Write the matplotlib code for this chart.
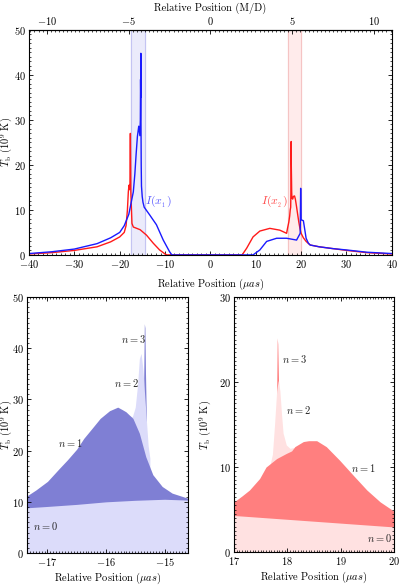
import numpy as np
import matplotlib
matplotlib.use("Agg")
import matplotlib.pyplot as plt
from matplotlib.ticker import MultipleLocator, FixedLocator

plt.rcParams['font.family'] = 'serif'
plt.rcParams['font.serif'] = ['cmr10']
plt.rcParams['mathtext.fontset'] = 'cm'
plt.rcParams['axes.formatter.use_mathtext'] = True
plt.rcParams['axes.unicode_minus'] = True

# ---------------- top panel: full profiles ----------------
red_x = [-40, -35, -30, -25, -22, -20, -19, -18.6, -18.3, -18.1, -17.95, -17.85,
         -17.75, -17.65, -17.55, -17.3, -17.0, -16.5, -15.5, -14.8, -14.1, -12.6,
         -11.2, -10.0, -9.6, 7, 8, 9.4, 10.9, 13.1, 15.3, 16.8, 17.0, 17.29, 17.48,
         17.6, 17.7, 17.76, 17.8, 17.81, 17.83, 17.89, 17.92, 17.98, 18.14, 18.3,
         18.55, 18.73, 18.98, 19.24, 19.49, 19.74, 20.0, 20.5, 21.1, 22, 24, 27,
         30, 34.5, 40]
red_y = [0.2, 0.5, 1.0, 1.8, 2.9, 4.0, 5.0, 6.5, 10, 14, 15.5, 14.5,
         15, 27, 14, 7, 6.2, 6.0, 5.6, 5.0, 4.4, 2.6,
         1.1, 0.2, 0, 0, 1.5, 4.0, 5.3, 5.9, 5.5, 4.8, 5.9, 7.3, 8.65,
         10, 10.6, 15, 19, 25.2, 20.2, 16.3, 14, 12.6, 12.4, 13,
         13.1, 12.4, 10.8, 9, 7.3, 5.9, 4.8, 3.8, 3.0, 2.2, 1.8, 1.4,
         1.0, 0.5, 0.2]

blue_x = [-40, -35, -30, -25, -22, -20, -19, -18, -17.5, -17.0, -16.66, -16.38,
          -16.1, -15.8, -15.55, -15.45, -15.4, -15.36, -15.34, -15.31, -15.26,
          -15.2, -15.04, -14.87, -14.6, -13.4, -11.9, -10.4, -9.0, -8.5,
          9.4, 10.9, 12.4, 14.6, 16.8, 19.0, 19.8, 19.9, 20.0, 20.5, 21.1,
          21.6, 22, 24, 27, 30, 34.5, 40]
blue_y = [0.3, 0.7, 1.3, 2.5, 3.8, 5.0, 6.5, 9.0, 11.5, 14, 18, 22.4,
          26.3, 28.6, 26.5, 30, 39, 35, 44.8, 30, 20,
          15.3, 13, 11.7, 10.6, 8.9, 6.7, 3.3, 0.7, 0,
          0, 1.1, 3.0, 3.7, 3.7, 3.3, 4.8, 14.8, 7.8, 7.6, 3.7,
          2.6, 2.2, 1.8, 1.4, 1.1, 0.6, 0.3]

blue_band = [-17.5, -14.45]
red_band = [17.0, 20.0]

# ---------------- bottom left: blue, by order n ----------------
bl_n0_x = [-17.4, -17.0, -16.5, -16.0, -15.5, -15.0, -14.5]
bl_n0_y = [8.8, 9.1, 9.5, 10.0, 10.3, 10.5, 10.3]
bl_n1_x = [-17.4, -17.2, -17.0, -16.8, -16.66, -16.5, -16.38, -16.25, -16.1,
           -15.94, -15.8, -15.72, -15.66, -15.54, -15.43, -15.32, -15.2,
           -15.04, -14.87, -14.6, -14.5]
bl_n1_y = [10.8, 12.3, 14.0, 16.5, 18.2, 20.3, 22.4, 24.2, 26.3,
           27.8, 28.5, 28.0, 27.6, 26.3, 23.4, 18.8, 15.3,
           13.0, 11.7, 10.7, 10.5]
bl_n2_x = [-15.6, -15.55, -15.5, -15.46, -15.43, -15.4, -15.37, -15.34,
           -15.31, -15.28, -15.25]
bl_n2_y = [26.8, 26.6, 28.5, 33, 38, 39, 36, 31, 26, 21, 18.5]
bl_n3_x = [-15.36, -15.345, -15.335, -15.325, -15.31]
bl_n3_y = [30, 44.8, 44, 35, 26]

# ---------------- bottom right: red, by order n ----------------
br_n0_x = [17, 18, 19, 20]
br_n0_y = [4.3, 3.85, 3.4, 2.95]
br_n1_x = [17, 17.15, 17.29, 17.48, 17.6, 17.8, 17.98, 18.08, 18.14, 18.3,
           18.4, 18.55, 18.73, 18.98, 19.24, 19.49, 19.74, 20]
br_n1_y = [5.9, 6.6, 7.3, 8.65, 10, 11, 11.6, 11.9, 12.4, 13,
           13.1, 13.1, 12.4, 10.8, 9, 7.3, 5.9, 4.8]
br_n2_x = [17.68, 17.72, 17.76, 17.8, 17.83, 17.86, 17.89, 17.92, 17.98,
           18.05, 18.12]
br_n2_y = [10.4, 11.5, 15, 19, 20.2, 19, 16.3, 14, 12.6, 12.2, 12.3]
br_n3_x = [17.8, 17.81, 17.82, 17.835]
br_n3_y = [19, 25.2, 24.5, 20]

md_ticks = [-10, -5, 0, 5, 10]
MD_PER_UAS = 1 / 3.61

fig = plt.figure(figsize=(3.99, 5.86), dpi=100)
ax = fig.add_axes([0.0727, 0.565, 0.9093, 0.384])
ax_l = fig.add_axes([0.0677, 0.0563, 0.4033, 0.4367])
ax_r = fig.add_axes([0.5865, 0.058, 0.4010, 0.435])

fs = 7.5

def style(a):
    a.tick_params(which='both', direction='in', top=True, right=True,
                  labelsize=fs, pad=2)
    a.tick_params(which='major', length=3, width=0.6)
    a.tick_params(which='minor', length=1.5, width=0.5)
    for s in a.spines.values():
        s.set_linewidth(0.8)

# top panel
ax.axvspan(*blue_band, color='#ebebfb', zorder=0)
ax.axvspan(*red_band, color='#ffebeb', zorder=0)
for v in blue_band:
    ax.axvline(v, color='#c4c4f2', lw=0.8, zorder=0)
for v in red_band:
    ax.axvline(v, color='#f5c4c4', lw=0.8, zorder=0)
ax.plot(red_x, red_y, color='#ff1a1a', lw=1.0)
ax.plot(blue_x, blue_y, color='#1a1aff', lw=1.0)
ax.text(-14.4, 11.5, r'$I(x_{_1})$', color='#5a5aff', fontsize=8.5)
ax.text(11.2, 11.5, r'$I(x_{_2})$', color='#ff4a4a', fontsize=8.5)
ax.set_xlim(-40, 40)
ax.set_ylim(0, 50)
ax.xaxis.set_major_locator(MultipleLocator(10))
ax.xaxis.set_minor_locator(MultipleLocator(1))
ax.yaxis.set_major_locator(MultipleLocator(10))
ax.yaxis.set_minor_locator(MultipleLocator(1))
style(ax)
ax.tick_params(top=False, which='both')
ax.set_xlabel(r'Relative Position ($\mu as$)', fontsize=fs, labelpad=5)
ax.set_ylabel(r'$T_{\rm b}$ ($10^9$ K)', fontsize=fs)
ax.yaxis.set_label_coords(-0.040, 0.5)

sec = ax.secondary_xaxis('top', functions=(lambda x: x * MD_PER_UAS,
                                           lambda m: m / MD_PER_UAS))
sec.xaxis.set_major_locator(FixedLocator(md_ticks))
sec.xaxis.set_minor_locator(MultipleLocator(0.25))
sec.tick_params(which='both', direction='in', labelsize=fs, pad=2)
sec.tick_params(which='major', length=3, width=0.6)
sec.tick_params(which='minor', length=1.5, width=0.5)
sec.set_xlabel('Relative Position (M/D)', fontsize=fs, labelpad=3)

# bottom panels, draw highest order first so lower orders sit on top
def layers(a, xs, ys, light, dark):
    cols = [dark, light, dark, light]
    for (x, y), c in zip(zip(xs, ys), cols):
        a.fill_between(x, 0, y, color=c, lw=0)

layers(ax_l, [bl_n3_x, bl_n2_x, bl_n1_x, bl_n0_x],
       [bl_n3_y, bl_n2_y, bl_n1_y, bl_n0_y], '#dcdcfa', '#7f7fd4')
layers(ax_r, [br_n3_x, br_n2_x, br_n1_x, br_n0_x],
       [br_n3_y, br_n2_y, br_n1_y, br_n0_y], '#ffe1e1', '#ff7f7f')

for a, labels in [(ax_l, [(-15.75, 41.0, 3), (-15.87, 32.5, 2),
                          (-16.82, 20.8, 1), (-17.25, 4.4, 0)]),
                  (ax_r, [(17.9, 22.3, 3), (17.98, 16.3, 2),
                          (19.2, 9.4, 1), (19.5, 1.2, 0)])]:
    for x, y, n in labels:
        a.text(x, y, r'$n=%d$' % n, fontsize=fs, color='#222222')

ax_l.set_xlim(-17.35, -14.6)
ax_l.set_ylim(0, 50)
ax_l.xaxis.set_major_locator(MultipleLocator(1))
ax_l.xaxis.set_minor_locator(MultipleLocator(0.05))
ax_l.yaxis.set_major_locator(MultipleLocator(10))
ax_l.yaxis.set_minor_locator(MultipleLocator(1))

ax_r.set_xlim(17, 20)
ax_r.set_ylim(0, 30)
ax_r.xaxis.set_major_locator(MultipleLocator(1))
ax_r.xaxis.set_minor_locator(MultipleLocator(0.05))
ax_r.yaxis.set_major_locator(MultipleLocator(10))
ax_r.yaxis.set_minor_locator(MultipleLocator(0.5))

for a, lx in [(ax_l, -0.082), (ax_r, -0.13)]:
    style(a)
    a.set_xlabel(r'Relative Position ($\mu as$)', fontsize=fs, labelpad=2)
    a.set_ylabel(r'$T_{\rm b}$ ($10^9$ K)', fontsize=fs)
    a.yaxis.set_label_coords(lx, 0.5)

fig.savefig('out.png', dpi=100)
